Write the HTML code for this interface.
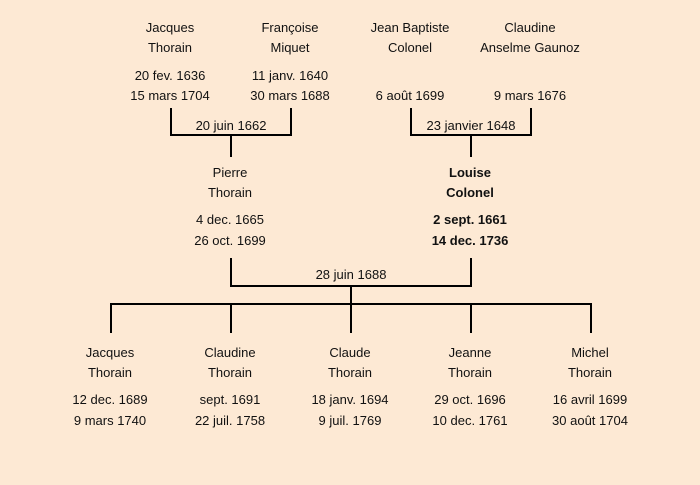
<!DOCTYPE html>
<html><head><meta charset="utf-8"><style>
html,body{margin:0;padding:0;background:#fde9d4;}
svg{display:block}
text{font-family:"Liberation Sans",sans-serif;font-size:13px;fill:#111;text-anchor:middle}
.b{font-weight:bold}
</style></head><body>
<svg width="700" height="485" viewBox="0 0 700 485">
<rect width="700" height="485" fill="#fde9d4"/>
<g stroke="#000" stroke-width="2" fill="none">
<path d="M171 108V135H291V108M231 135V157"/>
<path d="M411 108V135H531V108M471 135V157"/>
<path d="M231 258V286H471V258M351 286V304"/>
<path d="M111 333V304H591V333M231 304V333M351 304V333M471 304V333"/>
</g>
<text x="170" y="32">Jacques</text><text x="170" y="52">Thorain</text>
<text x="170" y="80">20 fev. 1636</text><text x="170" y="100">15 mars 1704</text>
<text x="290" y="32">Françoise</text><text x="290" y="52">Miquet</text>
<text x="290" y="80">11 janv. 1640</text><text x="290" y="100">30 mars 1688</text>
<text x="410" y="32">Jean Baptiste</text><text x="410" y="52">Colonel</text>
<text x="410" y="100">6 août 1699</text>
<text x="530" y="32">Claudine</text><text x="530" y="52">Anselme Gaunoz</text>
<text x="530" y="100">9 mars 1676</text>
<text x="231" y="130">20 juin 1662</text>
<text x="471" y="130">23 janvier 1648</text>
<text x="230" y="177">Pierre</text><text x="230" y="197">Thorain</text>
<text x="230" y="224">4 dec. 1665</text><text x="230" y="245">26 oct. 1699</text>
<g class="b"><text class="b" x="470" y="177">Louise</text><text class="b" x="470" y="197">Colonel</text>
<text class="b" x="470" y="224">2 sept. 1661</text><text class="b" x="470" y="245">14 dec. 1736</text></g>
<text x="351" y="279">28 juin 1688</text>
<text x="110" y="357">Jacques</text><text x="110" y="377">Thorain</text>
<text x="110" y="404">12 dec. 1689</text><text x="110" y="425">9 mars 1740</text>
<text x="230" y="357">Claudine</text><text x="230" y="377">Thorain</text>
<text x="230" y="404">sept. 1691</text><text x="230" y="425">22 juil. 1758</text>
<text x="350" y="357">Claude</text><text x="350" y="377">Thorain</text>
<text x="350" y="404">18 janv. 1694</text><text x="350" y="425">9 juil. 1769</text>
<text x="470" y="357">Jeanne</text><text x="470" y="377">Thorain</text>
<text x="470" y="404">29 oct. 1696</text><text x="470" y="425">10 dec. 1761</text>
<text x="590" y="357">Michel</text><text x="590" y="377">Thorain</text>
<text x="590" y="404">16 avril 1699</text><text x="590" y="425">30 août 1704</text>
</svg>
</body></html>
